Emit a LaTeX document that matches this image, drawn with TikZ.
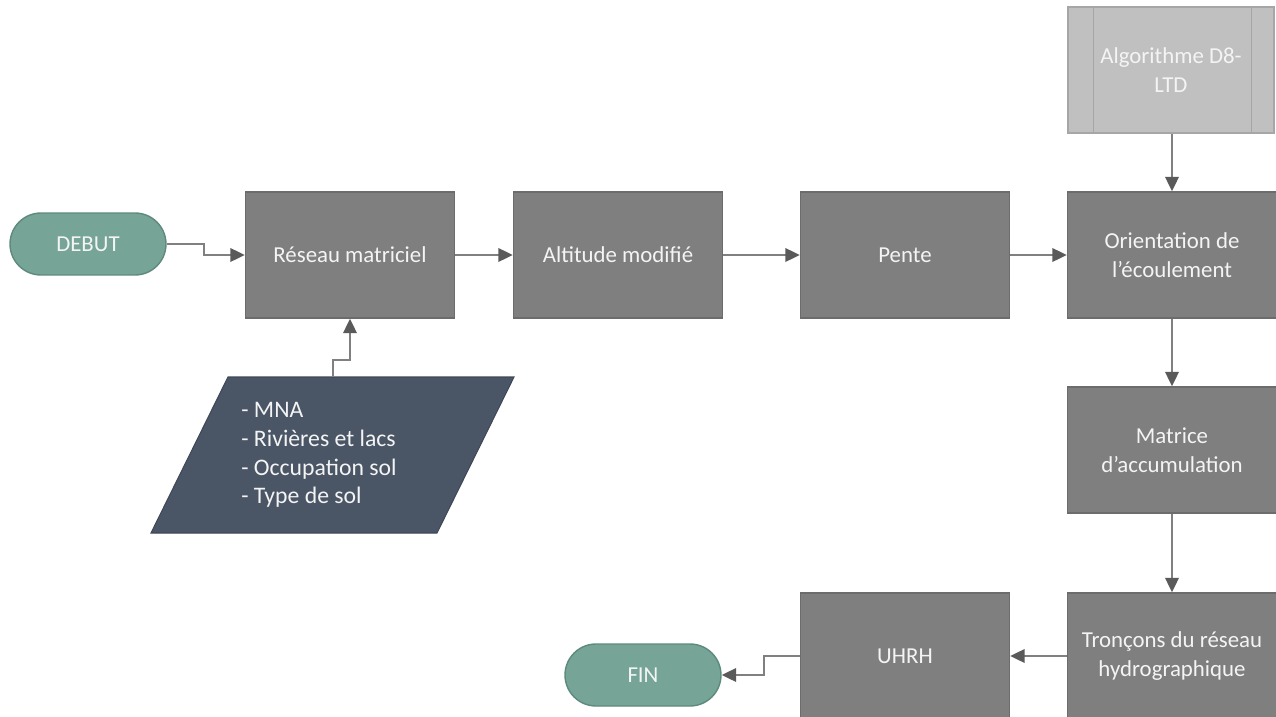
\documentclass[tikz,border=0pt]{standalone}
\usepackage{fontspec}
\setmainfont{Carlito}
\usetikzlibrary{arrows.meta}

\definecolor{boxgray}{HTML}{7F7F7F}
\definecolor{boxedge}{HTML}{6C6C6C}
\definecolor{lightbox}{HTML}{C0C0C0}
\definecolor{lightedge}{HTML}{A6A6A6}
\definecolor{termfill}{HTML}{76A597}
\definecolor{termedge}{HTML}{5E8A7D}
\definecolor{datafill}{HTML}{4A5566}
\definecolor{linkgray}{HTML}{808080}
\definecolor{tipgray}{HTML}{5A5A5A}
\definecolor{labelwhite}{HTML}{F4F4F4}

\tikzset{
  procbox/.style={draw=boxedge, fill=boxgray, line width=0.8pt,
    minimum width=4.18cm, minimum height=2.52cm, inner sep=2pt,
    text=labelwhite, align=center, font=\fontsize{13}{16.3}\selectfont},
  predef/.style={procbox, draw=lightedge, fill=lightbox, minimum width=4.12cm},
  terminal/.style={draw=termedge, fill=termfill, line width=0.8pt,
    minimum width=3.12cm, minimum height=1.24cm, rounded corners=0.62cm,
    text=labelwhite, font=\fontsize{13}{16.3}\selectfont},
  datatext/.style={text=labelwhite, align=left, inner sep=0pt,
    font=\fontsize{13.5}{16.3}\selectfont},
  link/.style={draw=linkgray, line width=1.2pt,
    -{Triangle[length=0.29cm,width=0.27cm,fill=tipgray,color=tipgray]}}
}

\begin{document}
\begin{tikzpicture}[x=0.02cm, y=-0.02cm]
  \useasboundingbox (0,0) rectangle (1276,717);

  %% top row
  \node[terminal] (debut) at (88,244) {DEBUT};
  \node[procbox] (reseau) at (350,255) {Réseau matriciel};
  \node[procbox] (altitude) at (618,255) {Altitude modifié};
  \node[procbox] (pente) at (905,255) {Pente};
  \node[procbox] (orientation) at (1172,255) {Orientation de\\l’écoulement};

  %% predefined process
  \node[predef] (algo) at (1171,70) {Algorithme D8-\\LTD};
    \draw[lightedge, line width=0.8pt] ([xshift=0.52cm]algo.north west) to ([xshift=0.52cm]algo.south west);
    \draw[lightedge, line width=0.8pt] ([xshift=-0.46cm]algo.north east) to ([xshift=-0.46cm]algo.south east);

  %% input data
  \draw[fill=datafill, draw=datafill!85!black, line width=0.6pt]
    (228,377) -- (514,377) -- (437,533) -- (151,533) -- cycle;
  \coordinate (dtop) at (333,377);
  \node[datatext, anchor=west] (donnees) at (241,455)
    {- MNA\\- Rivières et lacs\\- Occupation sol\\- Type de sol};

  %% right column and bottom row
  \node[procbox] (matrice) at (1172,450) {Matrice\\d’accumulation};
  \node[procbox] (troncons) at (1172,656) {Tronçons du réseau\\hydrographique};
  \node[procbox] (uhrh) at (905,656) {UHRH};
  \node[terminal] (fin) at (643,675) {FIN};

  %% connectors
  \draw[link] (debut.east) -- ++(37,0) |- (reseau.west);
  \draw[link] (dtop) -- ++(0,-17) -| (reseau.south);
  \draw[link] (reseau) -- (altitude);
  \draw[link] (altitude) -- (pente);
  \draw[link] (pente) -- (orientation);
  \draw[link] (algo.south -| orientation) -- (orientation.north);
  \draw[link] (orientation) -- (matrice);
  \draw[link] (matrice) -- (troncons);
  \draw[link] (troncons) -- (uhrh);
  \draw[link] (uhrh.west) -- ++(-36,0) |- (fin.east);
\end{tikzpicture}
\end{document}
